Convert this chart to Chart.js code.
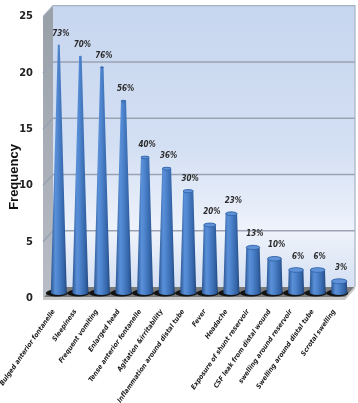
<!DOCTYPE html>
<html><head><meta charset="utf-8">
<script src="https://cdn.jsdelivr.net/npm/chart.js@4/dist/chart.umd.min.js"></script>
<style>html,body{margin:0;padding:0;background:#fff}canvas{display:block}</style>
</head><body>
<canvas id="c" width="358" height="403"></canvas>
<script>
const categories = ['Bulged anterior fontanelle','Sleepiness','Frequent vomiting','Enlarged head','Tense anterior fontanelle','Agitation &irritability','Inflammation around distal tube','Fever','Headache','Exposure of shunt reservoir','CSF leak from distal wound','swelling around reservoir','Swelling around distal tube','Scrotal swelling'];
const frequencies = [22,21,20,17,12,11,9,6,7,4,3,2,2,1];
const percentLabels = ['73%','70%','76%','56%','40%','36%','30%','20%','23%','13%','10%','6%','6%','3%'];
const yTicks = [0,5,10,15,20,25];
const yMax = 25;

const DX = 10, DY = 11;
const NARROW = "'Liberation Sans Narrow','DejaVu Sans Condensed','Liberation Sans',sans-serif";

const threeD = {
  id: 'threeD',
  beforeDatasetsDraw(chart) {
    const {ctx, chartArea: a, scales: {y}} = chart;
    const L = a.left, R = a.right, T = y.getPixelForValue(yMax), B = y.getPixelForValue(0);
    ctx.save();
    const g = ctx.createLinearGradient(0, T - DY, 0, B - DY);
    g.addColorStop(0, '#c7d6ef');
    g.addColorStop(0.5, '#d3dff3');
    g.addColorStop(0.8, '#eef3fb');
    g.addColorStop(1, '#d5e0f3');
    ctx.fillStyle = g;
    ctx.fillRect(L + DX, T - DY, R - L, B - T);
    const gs = ctx.createLinearGradient(0, T, 0, B);
    gs.addColorStop(0, '#9aa0a8');
    gs.addColorStop(1, '#b9bec6');
    ctx.fillStyle = gs;
    ctx.beginPath();
    ctx.moveTo(L, T); ctx.lineTo(L + DX, T - DY); ctx.lineTo(L + DX, B - DY); ctx.lineTo(L, B); ctx.closePath();
    ctx.fill();
    ctx.strokeStyle = '#9aa3b4';
    ctx.lineWidth = 1.5;
    yTicks.forEach(v => {
      if (v === 0 || v === yMax) return;
      const py = y.getPixelForValue(v);
      ctx.beginPath();
      ctx.moveTo(L, py); ctx.lineTo(L + DX, py - DY); ctx.lineTo(R + DX, py - DY);
      ctx.stroke();
    });
    ctx.strokeStyle = '#a7b1c4';
    ctx.lineWidth = 1.2;
    ctx.beginPath();
    ctx.moveTo(L, T); ctx.lineTo(L + DX, T - DY); ctx.lineTo(R + DX, T - DY); ctx.lineTo(R + DX, B - DY);
    ctx.stroke();
    ctx.fillStyle = '#7a7a7a';
    ctx.beginPath();
    ctx.moveTo(L, B); ctx.lineTo(R, B); ctx.lineTo(R + DX, B - DY); ctx.lineTo(L + DX, B - DY); ctx.closePath();
    ctx.fill();
    ctx.fillStyle = '#c9c9c9';
    ctx.fillRect(L, B - 1, R - L, 3);
    ctx.beginPath();
    ctx.moveTo(R, B - 1); ctx.lineTo(R + DX, B - DY - 1); ctx.lineTo(R + DX, B - DY + 2); ctx.lineTo(R, B + 2); ctx.closePath();
    ctx.fill();
    ctx.restore();
  },
  afterDatasetsDraw(chart) {
    const {ctx} = chart;
    const meta = chart.getDatasetMeta(0);
    ctx.save();
    meta.data.forEach((el) => {
      const cx = el.x + DX / 2, by = el.base - DY / 2;
      ctx.fillStyle = 'rgba(10,10,10,0.92)';
      ctx.beginPath();
      ctx.ellipse(cx - 2, by + 0.5, 11, 3.6, 0, 0, Math.PI * 2);
      ctx.fill();
    });
    meta.data.forEach((el, i) => {
      const v = frequencies[i];
      const cx = el.x + DX / 2, by = el.base - DY / 2, ty = el.y - DY / 2;
      const r0 = 8, r1 = Math.max(0.3, r0 * (1 - v / yMax)), k = 0.32;
      const gb = ctx.createLinearGradient(cx - r0, 0, cx + r0, 0);
      gb.addColorStop(0, '#2a5592');
      gb.addColorStop(0.28, '#5a90d8');
      gb.addColorStop(0.45, '#4f86cf');
      gb.addColorStop(0.8, '#3566aa');
      gb.addColorStop(1, '#23487e');
      ctx.fillStyle = gb;
      ctx.beginPath();
      ctx.moveTo(cx - r1, ty);
      ctx.lineTo(cx - r0, by);
      ctx.ellipse(cx, by, r0, r0 * k, 0, Math.PI, 0, true);
      ctx.lineTo(cx + r1, ty);
      ctx.ellipse(cx, ty, r1, r1 * k, 0, 0, Math.PI, true);
      ctx.closePath();
      ctx.fill();
      if (r1 > 1.5) {
        ctx.fillStyle = '#5f92d8';
        ctx.strokeStyle = '#2f5fa2';
        ctx.lineWidth = 0.8;
        ctx.beginPath();
        ctx.ellipse(cx, ty, r1, r1 * k, 0, 0, Math.PI * 2);
        ctx.fill();
        ctx.stroke();
      }
      ctx.fillStyle = '#2b2b2b';
      ctx.font = 'italic bold 8px ' + NARROW;
      ctx.textAlign = 'center';
      ctx.textBaseline = 'alphabetic';
      ctx.fillText(percentLabels[i], cx + 2, ty - r1 * k - 9);
    });
    ctx.restore();
  },
  afterDraw(chart) {
    const {ctx} = chart;
    ctx.save();
    ctx.translate(14, 177);
    ctx.rotate(-Math.PI / 2);
    ctx.font = "bold 13px 'Liberation Sans',Arial,sans-serif";
    ctx.fillStyle = '#111';
    ctx.textAlign = 'center';
    ctx.textBaseline = 'middle';
    ctx.fillText('Frequency', 0, 0);
    ctx.restore();
  }
};

new Chart(document.getElementById('c'), {
  type: 'bar',
  data: {
    labels: categories,
    datasets: [{
      data: frequencies,
      backgroundColor: 'rgba(0,0,0,0)',
      borderWidth: 0
    }]
  },
  options: {
    responsive: false,
    devicePixelRatio: 1,
    animation: false,
    layout: {padding: {top: 14, right: 13, left: 0, bottom: 0}},
    plugins: {legend: {display: false}, tooltip: {enabled: false}},
    scales: {
      x: {
        offset: true,
        grid: {display: false, drawTicks: false},
        border: {display: false},
        ticks: {
          autoSkip: false, maxRotation: 55, minRotation: 55, padding: 10,
          color: '#1a1a1a',
          font: {family: NARROW, size: 6.8, style: 'italic', weight: 'bold'}
        },
        afterFit(s) { s.height = 105; s.paddingLeft = 0; s.paddingRight = 0; }
      },
      y: {
        min: 0, max: yMax,
        grid: {display: false, drawTicks: false},
        border: {display: false},
        ticks: {
          stepSize: 5, padding: 10, color: '#222',
          font: {family: NARROW, size: 11, weight: 'bold'}
        },
        afterFit(s) { s.width = 43; }
      }
    }
  },
  plugins: [threeD]
});
</script>
</body></html>
